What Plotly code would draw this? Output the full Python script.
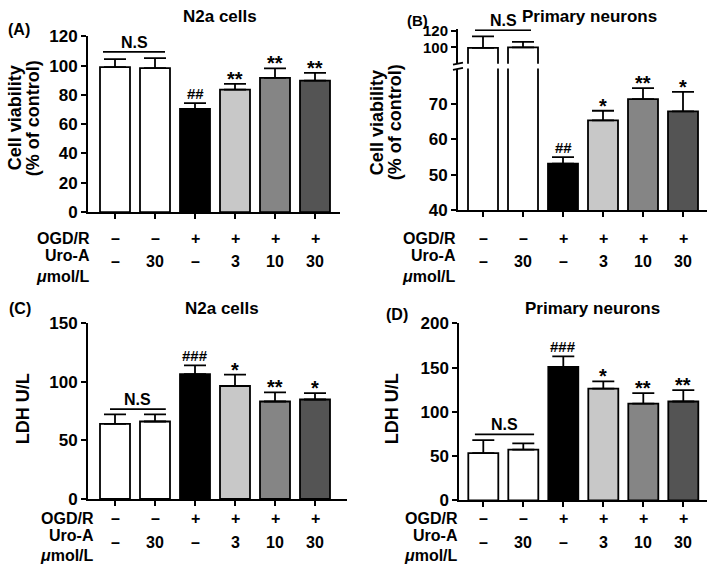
import plotly.graph_objects as go

W, H = 709, 574

# Groups (x positions) and treatment table below each panel
groups = [0, 1, 2, 3, 4, 5]
ogd_row = ["–", "–", "+", "+", "+", "+"]
uro_row = ["–", "30", "–", "3", "10", "30"]
bar_colors = ["white", "white", "black", "#c8c8c8", "#858585", "#545454"]

# (A) N2a cells, cell viability (% of control)
a_mean = [99.0, 98.3, 70.4, 83.6, 91.7, 89.8]
a_err = [5.5, 6.8, 4.0, 4.0, 6.4, 5.2]
a_sig = ["", "", "##", "**", "**", "**"]

# (B) Primary neurons, cell viability (% of control)
b_mean = [99.3, 100.0, 53.2, 65.4, 71.4, 67.9]
b_err = [14.0, 6.7, 1.8, 2.7, 3.1, 5.5]
b_sig = ["", "", "##", "*", "**", "*"]

# (C) N2a cells, LDH U/L
c_mean = [64.0, 66.1, 106.6, 96.4, 83.2, 84.9]
c_err = [8.2, 6.1, 7.4, 9.7, 7.7, 5.5]
c_sig = ["", "", "###", "*", "**", "*"]

# (D) Primary neurons, LDH U/L
d_mean = [53.5, 57.4, 150.7, 126.2, 109.2, 111.7]
d_err = [14.5, 7.0, 12.0, 8.1, 12.0, 12.8]
d_sig = ["", "", "###", "*", "**", "**"]

# level of the N.S bracket over the two control groups
ns_level = {"A": 109.4, "B": 121.0, "C": 76.6, "D": 74.6}

FONT = "Arial, Liberation Sans, sans-serif"


def px(x):
    return x / W


def py(y):
    return 1 - y / H


fig = go.Figure()
annotations = []


def add_bars(mean, err, xa, ya):
    fig.add_trace(
        go.Bar(
            x=groups,
            y=mean,
            width=0.75,
            marker={"color": bar_colors, "line": {"color": "black", "width": 1.8}},
            error_y={
                "type": "data",
                "symmetric": False,
                "array": err,
                "arrayminus": [0] * len(err),
                "color": "black",
                "thickness": 1.8,
                "width": 11,
            },
            xaxis=xa,
            yaxis=ya,
            showlegend=False,
        )
    )


def add_sig(mean, err, sig, xa, ya):
    for i, s in enumerate(sig):
        if not s:
            continue
        star = s.startswith("*")
        annotations.append(
            dict(
                x=groups[i],
                y=mean[i] + err[i],
                xref=xa,
                yref=ya,
                text=s,
                showarrow=False,
                yanchor="bottom",
                yshift=-8 if star else -1,
                font={"family": FONT, "size": 20 if star else 15, "color": "black", "weight": "bold"},
            )
        )


def add_ns(level, x0, x1, xa, ya):
    fig.add_trace(
        go.Scatter(
            x=[x0, x1],
            y=[level, level],
            mode="lines",
            line={"color": "black", "width": 1.8},
            xaxis=xa,
            yaxis=ya,
            showlegend=False,
            hoverinfo="skip",
        )
    )
    annotations.append(
        dict(
            x=(x0 + x1) / 2,
            y=level,
            xref=xa,
            yref=ya,
            text="N.S",
            showarrow=False,
            yanchor="bottom",
            yshift=-1,
            font={"family": FONT, "size": 16, "color": "black", "weight": "bold"},
        )
    )


def text(x, y, s, size=16, xanchor="center", angle=0):
    annotations.append(
        dict(
            x=px(x),
            y=py(y),
            xref="paper",
            yref="paper",
            text=s,
            showarrow=False,
            xanchor=xanchor,
            yanchor="middle",
            textangle=angle,
            font={"family": FONT, "size": size, "color": "black", "weight": "bold"},
        )
    )


def add_table(xa, label_right, rows_y):
    y_ogd, y_uro, y_val, y_unit = rows_y
    text(label_right, y_ogd, "OGD/R", xanchor="right")
    text(label_right, y_uro, "Uro-A", xanchor="right")
    text(label_right, y_unit, "<i>μ</i>mol/L", xanchor="right")
    for i in groups:
        for s, yy in ((ogd_row[i], y_ogd), (uro_row[i], y_val)):
            annotations.append(
                dict(
                    x=i,
                    y=py(yy),
                    xref=xa,
                    yref="paper",
                    text=s,
                    showarrow=False,
                    yanchor="middle",
                    font={"family": FONT, "size": 16, "color": "black", "weight": "bold"},
                )
            )


# Panel A
add_bars(a_mean, a_err, "x", "y")
add_sig(a_mean, a_err, a_sig, "x", "y")
add_ns(ns_level["A"], -0.3, 1.25, "x", "y")

# Panel B (broken axis: lower and upper segment)
add_bars(b_mean, b_err, "x2", "y2")
add_bars(b_mean, b_err, "x2", "y3")
add_sig(b_mean, b_err, b_sig, "x2", "y2")
add_ns(ns_level["B"], -0.2, 1.2, "x2", "y3")

# Panel C
add_bars(c_mean, c_err, "x3", "y4")
add_sig(c_mean, c_err, c_sig, "x3", "y4")
add_ns(ns_level["C"], -0.125, 1.27, "x3", "y4")

# Panel D
add_bars(d_mean, d_err, "x4", "y5")
add_sig(d_mean, d_err, d_sig, "x4", "y5")
add_ns(ns_level["D"], -0.21, 1.27, "x4", "y5")

# titles, panel letters, axis titles
text(220, 8, "N2a cells", size=17)
text(589, 8, "Primary neurons", size=17)
text(222, 310, "N2a cells", size=17)
text(592, 310, "Primary neurons", size=17)
text(19, 21, "(A)", size=16)
text(417, 12, "(B)", size=15)
text(20, 310, "(C)", size=16)
text(397, 316, "(D)", size=16)
text(15, 113, "Cell viability", size=18, angle=-90)
text(33, 113, "(% of control)", size=18, angle=-90)
text(377, 117, "Cell viability", size=18, angle=-90)
text(395, 117, "(% of control)", size=18, angle=-90)
text(23, 414, "LDH U/L", size=18, angle=-90)
text(392, 414, "LDH U/L", size=18, angle=-90)

# treatment tables
add_table("x", 92, (237, 255, 261, 277))
add_table("x2", 458, (237, 255, 261, 277))
add_table("x3", 96, (527, 545, 552, 565))
add_table("x4", 460, (527, 545, 552, 565))

ax_common = dict(
    showline=True,
    linecolor="black",
    linewidth=2,
    ticks="outside",
    ticklen=5,
    tickwidth=2,
    tickcolor="black",
    showgrid=False,
    zeroline=False,
)
x_common = dict(ax_common, tickvals=groups, showticklabels=False)
tick_font = {"family": FONT, "size": 17, "color": "black", "weight": "bold"}
y_common = dict(ax_common, tickfont=tick_font)

fig.update_layout(
    width=W,
    height=H,
    margin=dict(l=0, r=0, t=0, b=0),
    paper_bgcolor="white",
    plot_bgcolor="white",
    showlegend=False,
    annotations=annotations,
    xaxis=dict(x_common, domain=[px(88), px(340)], range=[-0.675, 5.625], anchor="y"),
    yaxis=dict(y_common, domain=[py(210), py(28.3)], range=[0, 120], dtick=20, anchor="x"),
    xaxis2=dict(x_common, domain=[px(458), px(707)], range=[-0.625, 5.6], anchor="y2"),
    yaxis2=dict(y_common, domain=[py(208.3), py(61.6)], range=[40, 80], tickvals=[40, 50, 60, 70], anchor="x2"),
    yaxis3=dict(y_common, domain=[py(56.7), py(21.0)], range=[80, 122], tickvals=[100, 120], anchor="x2",
                tickfont=dict(tick_font, size=15)),
    xaxis3=dict(x_common, domain=[px(88), px(347)], range=[-0.675, 5.8], anchor="y4"),
    yaxis4=dict(y_common, domain=[py(506.7), py(325)], range=[0, 150], dtick=50, anchor="x3"),
    xaxis4=dict(x_common, domain=[px(459.3), px(706.7)], range=[-0.6, 5.585], anchor="y5"),
    yaxis5=dict(y_common, domain=[py(508.3), py(325)], range=[0, 200], dtick=50, anchor="x4"),
    shapes=[
        # axis break marks on panel B
        dict(type="line", xref="paper", yref="paper", x0=px(453), y0=py(57.5), x1=px(463), y1=py(55.5),
             line={"color": "black", "width": 1.8}),
        dict(type="line", xref="paper", yref="paper", x0=px(453), y0=py(63), x1=px(463), y1=py(61),
             line={"color": "black", "width": 1.8}),
    ],
)

# drop the default page margin so the figure sits at the window's top-left corner
fig.write_html(
    "out.html",
    config={"displayModeBar": False},
    post_script="document.body.style.margin='0px';",
)
